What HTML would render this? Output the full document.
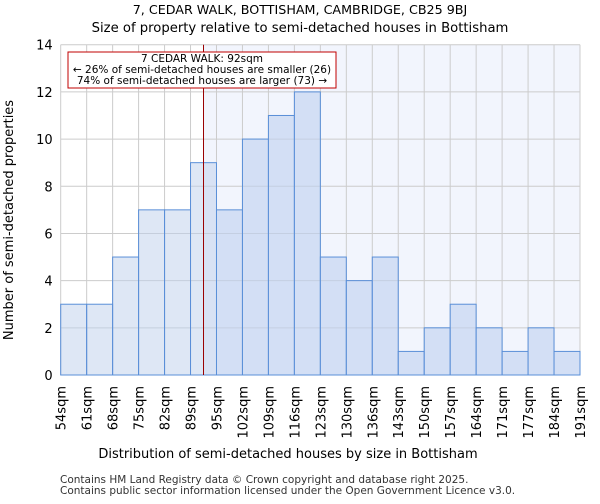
<!DOCTYPE html>
<html><head><meta charset="utf-8"><style>
body{margin:0;background:#fff;font-family:"DejaVu Sans","Liberation Sans",sans-serif}
</style></head><body>
<svg id="chart" width="600" height="500" xmlns="http://www.w3.org/2000/svg" font-family="DejaVu Sans, Liberation Sans, sans-serif">
<text x="300" y="14" text-anchor="middle" font-size="12.7">7, CEDAR WALK, BOTTISHAM, CAMBRIDGE, CB25 9BJ</text>
<text x="300" y="32" text-anchor="middle" font-size="13.2">Size of property relative to semi-detached houses in Bottisham</text>
<g id="plot"></g>
<text x="288" y="458" text-anchor="middle" font-size="13">Distribution of semi-detached houses by size in Bottisham</text>
<text transform="translate(13,220) rotate(-90)" text-anchor="middle" font-size="13">Number of semi-detached properties</text>
<text x="60" y="483" font-size="10.5" fill="#333">Contains HM Land Registry data © Crown copyright and database right 2025.</text>
<text x="60" y="494" font-size="10.5" fill="#333">Contains public sector information licensed under the Open Government Licence v3.0.</text>
</svg>
<script>
const labels=["54sqm","61sqm","68sqm","75sqm","82sqm","89sqm","95sqm","102sqm","109sqm","116sqm","123sqm","130sqm","136sqm","143sqm","150sqm","157sqm","164sqm","171sqm","177sqm","184sqm","191sqm"];
const counts=[3,3,5,7,7,9,7,10,11,12,5,4,5,1,2,3,2,1,2,1];
const yTicks=[0,2,4,6,8,10,12,14];
const markerBin=5.5;
const NS="http://www.w3.org/2000/svg";
const g=document.getElementById('plot');
const L=60.7,R=580,T=44.7,B=375,yMax=14;
const n=counts.length,bw=(R-L)/n;
const x=i=>L+i*bw, y=v=>B-(v/yMax)*(B-T);
function el(t,a){const e=document.createElementNS(NS,t);for(const k in a)e.setAttribute(k,a[k]);g.appendChild(e);return e;}
const mx=x(markerBin);
let e=el('rect',{x:mx,y:T,width:R-mx,height:B-T,fill:'#f2f5fd'});


for(let i=0;i<=n;i++){e=el('line',{x1:x(i),x2:x(i),y1:T,y2:B,stroke:'#cccccc','stroke-width':1});

}
yTicks.forEach(v=>{e=el('line',{x1:L,x2:R,y1:y(v),y2:y(v),stroke:'#cccccc','stroke-width':1});


e=el('text',{x:L-8,y:y(v)+5,'text-anchor':'end','font-size':13});e.textContent=v;

});
counts.forEach((c,i)=>{e=el('rect',{x:x(i),y:y(c),width:bw,height:B-y(c),fill:i<markerBin?'rgba(190,208,235,0.5)':'rgba(190,208,240,0.6)',stroke:'#5a8fd8','stroke-width':1});

});
labels.forEach((l,i)=>{e=el('text',{transform:`translate(${x(i)+5},386) rotate(-90)`,'text-anchor':'end','font-size':13});e.textContent=l;

});
e=el('line',{x1:mx,x2:mx,y1:T,y2:B,stroke:'#9a0000','stroke-width':1});


e=el('rect',{x:68,y:52,width:268,height:36,fill:'#fff',stroke:'#c00000','stroke-width':1});


[["7 CEDAR WALK: 92sqm",62],["← 26% of semi-detached houses are smaller (26)",73],["74% of semi-detached houses are larger (73) →",84]].forEach(([t,yy])=>{
e=el('text',{x:202,y:yy,'text-anchor':'middle','font-size':10.5});e.textContent=t;

});
</script>
</body></html>
